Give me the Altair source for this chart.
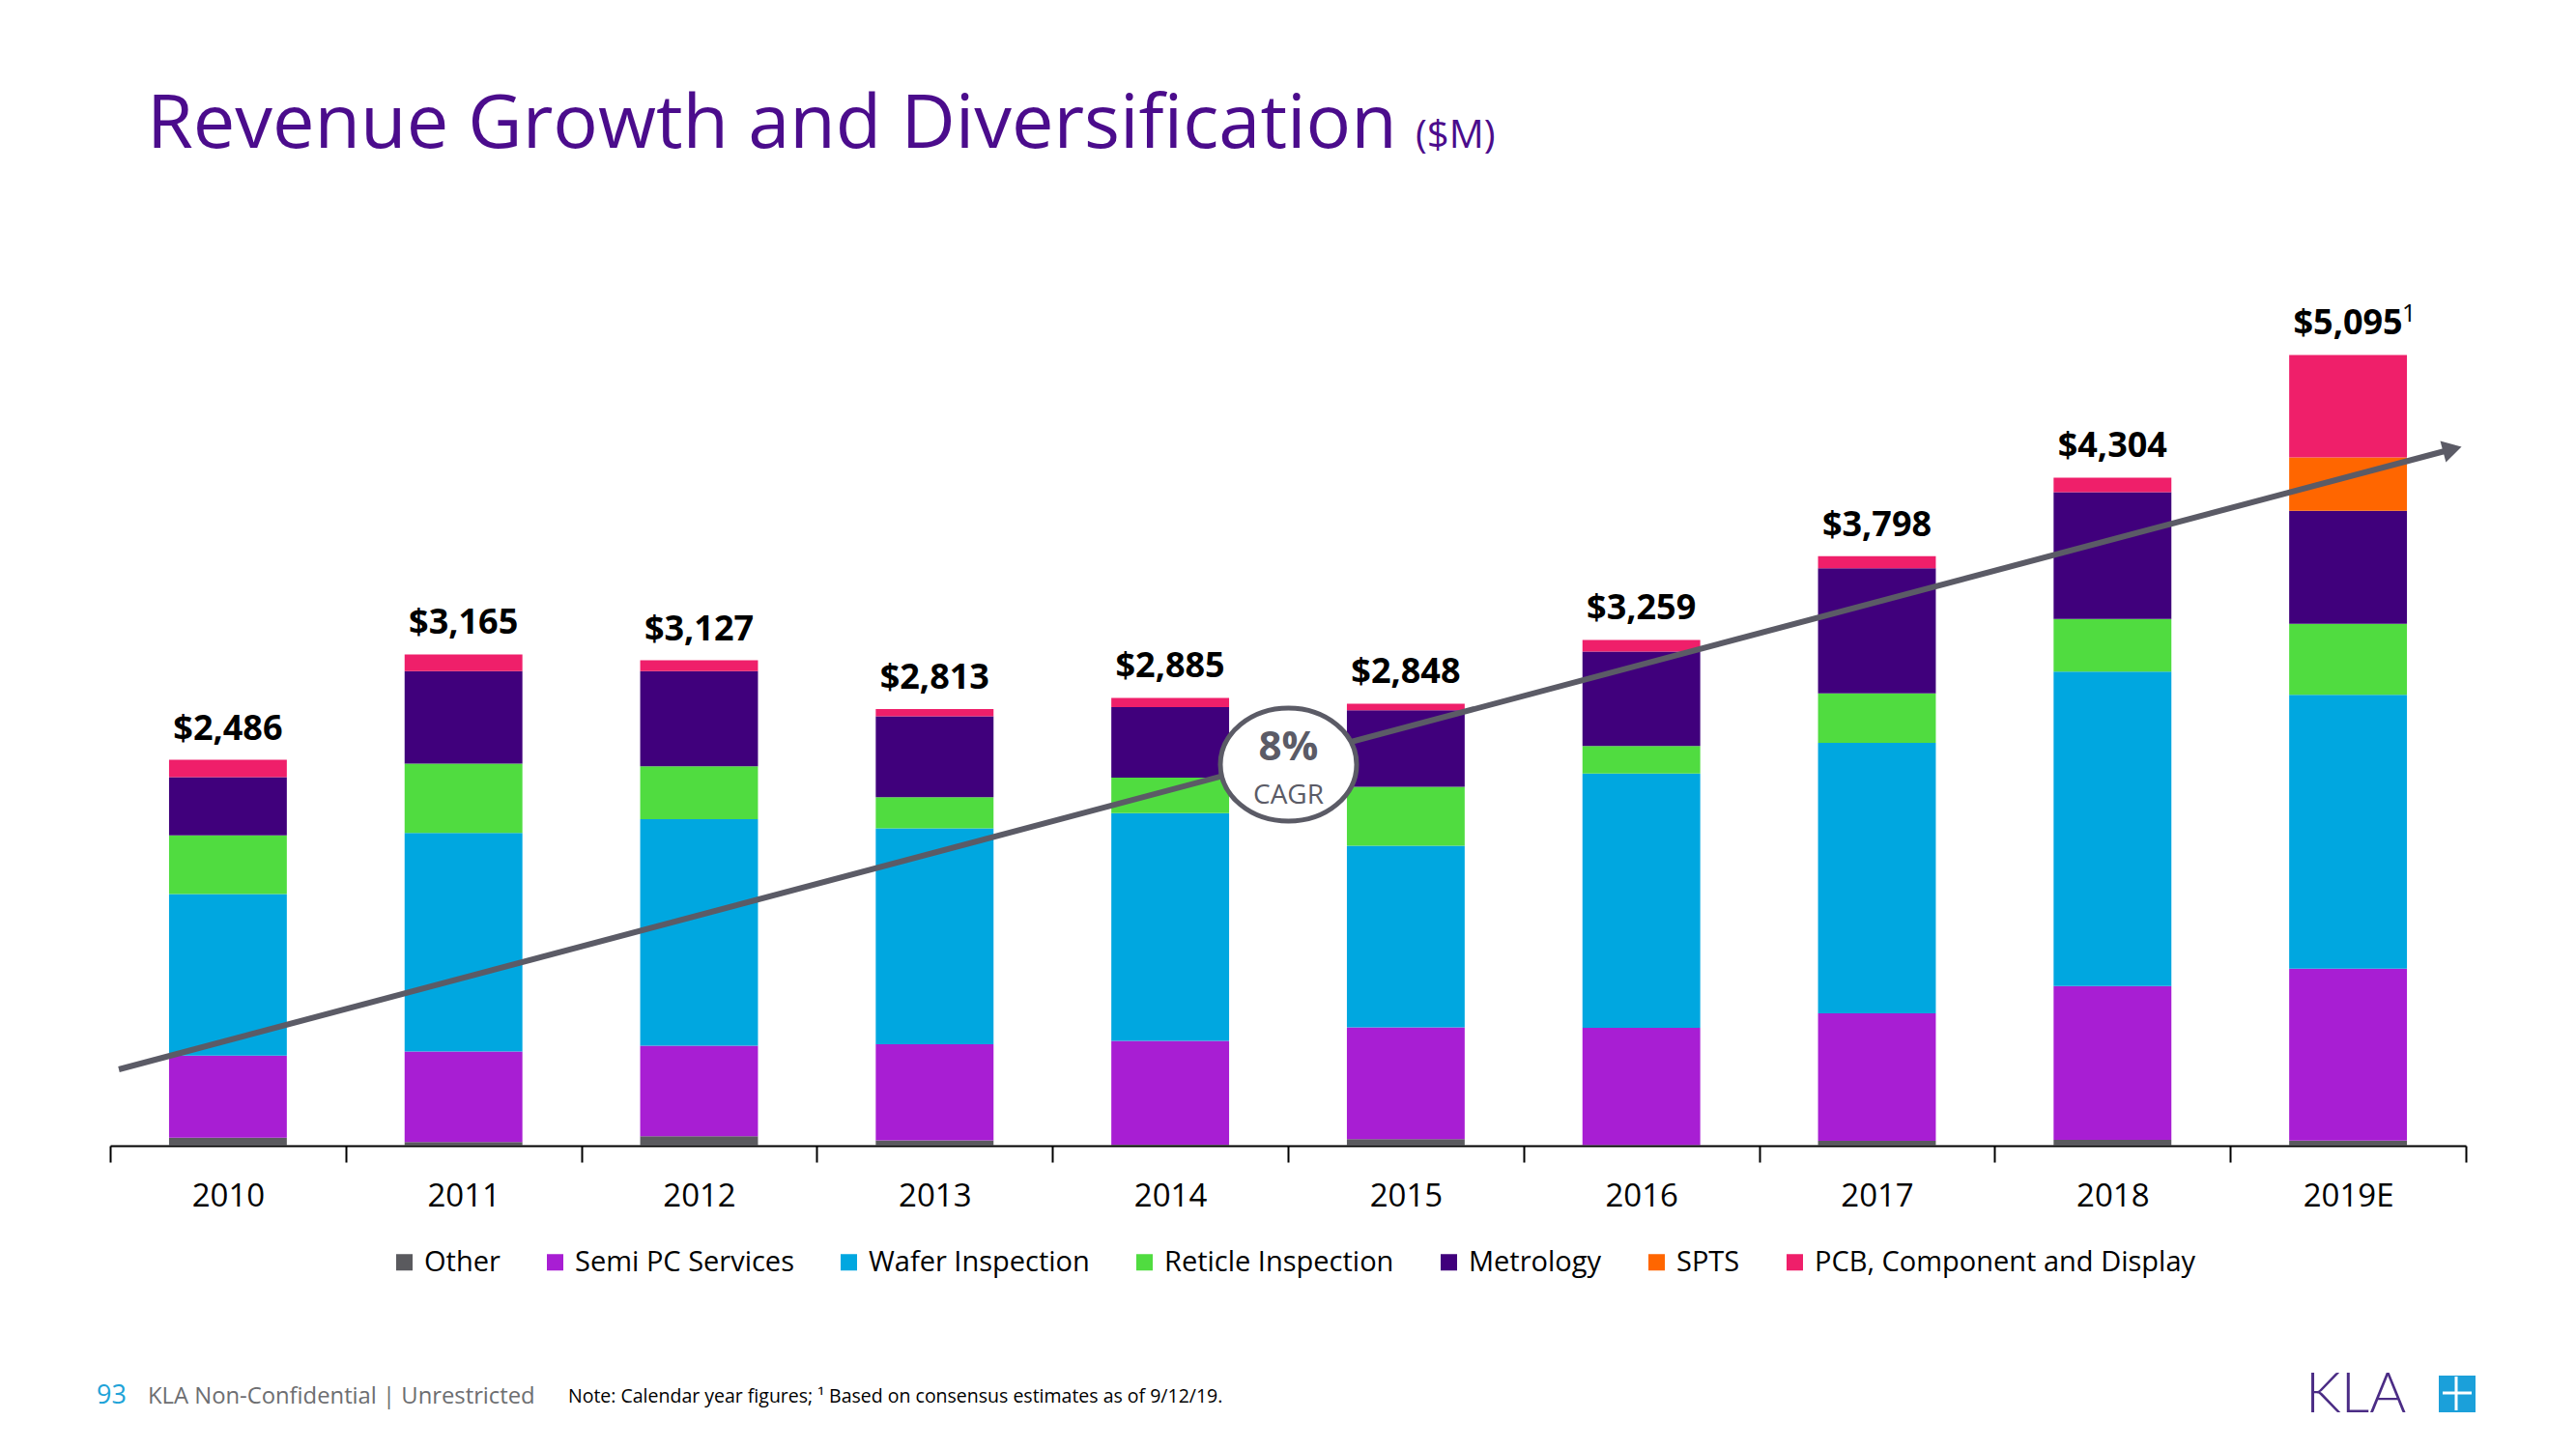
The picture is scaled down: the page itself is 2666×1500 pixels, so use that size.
import altair as alt
import pandas as pd

# ---------------- data ----------------
years = ["2010", "2011", "2012", "2013", "2014", "2015", "2016", "2017", "2018", "2019E"]
categories = ["Other", "Semi PC Services", "Wafer Inspection", "Reticle Inspection",
              "Metrology", "SPTS", "PCB, Component and Display"]
colors = ["#5A5A5E", "#A81ED3", "#00A7E0", "#50DC40", "#40007C", "#FF6600", "#EF1F6A"]

other = [52, 24, 60, 35, 7, 42, 5, 31, 37, 32]
semi_pc = [528, 583, 584, 619, 669, 720, 755, 822, 991, 1108]
wafer = [1042, 1408, 1460, 1391, 1467, 1171, 1638, 1742, 2027, 1765]
reticle = [377, 447, 341, 201, 229, 380, 177, 319, 338, 457]
metrology = [375, 595, 613, 521, 453, 493, 608, 806, 818, 729]
spts = [0, 0, 0, 0, 0, 0, 0, 0, 0, 343]
pcb = [112, 108, 69, 46, 60, 42, 76, 78, 93, 661]
totals = [2486, 3165, 3127, 2813, 2885, 2848, 3259, 3798, 4304, 5095]

series = [other, semi_pc, wafer, reticle, metrology, spts, pcb]

rows = []
for ci, (cat, vals) in enumerate(zip(categories, series)):
    for y, v in zip(years, vals):
        if v > 0:
            rows.append({"year": y, "segment": cat, "value": v, "idx": ci})
bars_df = pd.DataFrame(rows)

labels_df = pd.DataFrame({
    "year": years,
    "total": totals,
    "label": [f"${t:,}" for t in totals],
})
one = pd.DataFrame({"a": [0]})

PURPLE = "#4B0C8C"
GRAY = "#5B5B66"
FONT = "Open Sans"

x_enc = alt.X("year:N", sort=years,
              scale=alt.Scale(paddingInner=0, paddingOuter=0),
              axis=alt.Axis(title=None, labelAngle=0, labelFont=FONT, labelFontSize=33,
                            labelColor="black", domainColor="black", domainWidth=2,
                            tickColor="black", tickWidth=2, tickSize=17, tickBand="extent",
                            labelPadding=19, grid=False))
y_scale = alt.Scale(domain=[0, 6000])

bars = alt.Chart(bars_df).mark_bar(width=alt.RelativeBandSize(0.5)).encode(
    x=x_enc,
    y=alt.Y("value:Q", stack="zero", scale=y_scale, axis=None),
    color=alt.Color("segment:N",
                    scale=alt.Scale(domain=categories, range=colors),
                    legend=alt.Legend(title=None, orient="none", legendX=290, legendY=1070,
                                      direction="horizontal", symbolType="square",
                                      symbolSize=289, symbolStrokeWidth=0, symbolOpacity=1,
                                      labelFont=FONT, labelFontSize=29, labelColor="black",
                                      labelLimit=0, columnPadding=42, labelOffset=6)),
    order=alt.Order("idx:Q", sort="ascending"),
)

labels = alt.Chart(labels_df).mark_text(
    font=FONT, fontSize=36, fontWeight="bold", color="black",
    baseline="alphabetic", align="center", dy=-21,
).encode(
    x=alt.X("year:N", sort=years),
    y=alt.Y("total:Q", scale=y_scale),
    text="label:N",
)

sup = alt.Chart(labels_df[labels_df["year"] == "2019E"]).mark_text(
    text="1", font=FONT, fontSize=25, color="black",
    baseline="alphabetic", align="center", dx=63, dy=-34,
).encode(
    x=alt.X("year:N", sort=years),
    y=alt.Y("total:Q", scale=y_scale),
)

# CAGR trend arrow
trend = alt.Chart(one).mark_rule(color=GRAY, strokeWidth=6, strokeCap="butt").encode(
    x=alt.value(9), y=alt.value(885), x2=alt.value(2418), y2=alt.value(244.5))
arrow = alt.Chart(one).mark_point(shape="triangle-up", filled=True, color=GRAY,
                                  opacity=1, size=520, angle=75).encode(
    x=alt.value(2424), y=alt.value(243))

ellipse = alt.Chart(one).mark_point(
    shape="M-1,0 A1,0.83 0 1,1 1,0 A1,0.83 0 1,1 -1,0 Z",
    filled=False, fill="white", fillOpacity=1, stroke=GRAY, strokeWidth=5,
    opacity=1, size=141 * 141).encode(x=alt.value(1219.5), y=alt.value(569.5))
cagr_pct = alt.Chart(one).mark_text(text="8%", font=FONT, fontSize=42, fontWeight="bold",
                                    color=GRAY, align="center", baseline="alphabetic").encode(
    x=alt.value(1219.5), y=alt.value(565))
cagr_txt = alt.Chart(one).mark_text(text="CAGR", font=FONT, fontSize=28,
                                    color=GRAY, align="center", baseline="alphabetic").encode(
    x=alt.value(1219.5), y=alt.value(610))

# Titles and footer
title = alt.Chart(one).mark_text(text="Revenue Growth and Diversification", font=FONT,
                                 fontSize=77.5, color=PURPLE, align="left",
                                 baseline="alphabetic").encode(x=alt.value(38), y=alt.value(-69))
unit = alt.Chart(one).mark_text(text="($M)", font=FONT, fontSize=40, color=PURPLE,
                                align="left", baseline="alphabetic").encode(
    x=alt.value(1351), y=alt.value(-69))
page = alt.Chart(one).mark_text(text="93", font=FONT, fontSize=27, color="#1FA3D8",
                                align="left", baseline="alphabetic").encode(
    x=alt.value(-14), y=alt.value(1231))
conf = alt.Chart(one).mark_text(text="KLA Non-Confidential | Unrestricted", font=FONT,
                                fontSize=23.8, color="#6D6E71", align="left",
                                baseline="alphabetic").encode(x=alt.value(39), y=alt.value(1231))
note = alt.Chart(one).mark_text(
    text="Note: Calendar year figures; ¹ Based on consensus estimates as of 9/12/19.",
    font=FONT, fontSize=19.5, color="black", align="left", baseline="alphabetic").encode(
    x=alt.value(474), y=alt.value(1230))

# KLA logo
logo_txt = alt.Chart(one).mark_text(text="KLA", font="Lato", fontSize=58, fontWeight=300,
                                    color="#4B2C85", align="left",
                                    baseline="alphabetic").encode(
    x=alt.value(2272), y=alt.value(1240))
logo_box = alt.Chart(one).mark_square(color="#1BA0DA", size=38 * 38, opacity=1).encode(
    x=alt.value(2429), y=alt.value(1221))
logo_h = alt.Chart(one).mark_rule(color="white", strokeWidth=3).encode(
    x=alt.value(2414), x2=alt.value(2444), y=alt.value(1220), y2=alt.value(1220))
logo_v = alt.Chart(one).mark_rule(color="white", strokeWidth=3).encode(
    x=alt.value(2428), x2=alt.value(2428), y=alt.value(1203), y2=alt.value(1238))

chart = alt.layer(
    bars, labels, sup, trend, arrow, ellipse, cagr_pct, cagr_txt,
    title, unit, page, conf, note, logo_txt, logo_box, logo_h, logo_v,
).properties(
    width=2438, height=964,
    autosize=alt.AutoSizeParams(type="none"),
    padding={"left": 114, "top": 222, "right": 114, "bottom": 314},
    background="white",
).configure_view(stroke=None)

chart.save("out.html", embed_options={"renderer": "svg", "actions": False})
